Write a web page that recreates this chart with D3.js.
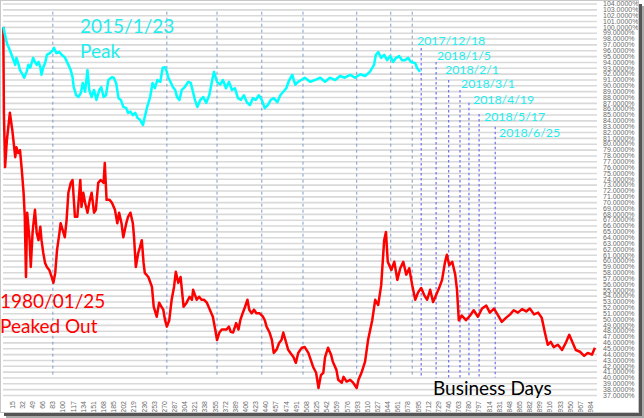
<!DOCTYPE html>
<html><head><meta charset="utf-8">
<script src="https://cdn.jsdelivr.net/npm/d3@7"></script>
<style>
html,body{margin:0;padding:0;background:#fff;}
svg{display:block;}
</style></head>
<body>
<script>
// ---------- DATA ----------
const redDays = [1,2,4,7,12,16,21,23,26,29,32,35,37,39,41,45,47,50,51,54,57,60,63,65,68,71,74,78,82,85,88,91,95,97,102,104,107,110,114,117,121,125,130,132,135,138,142,146,149,153,156,160,164,169,171,174,179,183,188,192,195,199,202,207,210,214,218,220,223,227,230,233,236,238,244,250,253,258,262,266,269,272,275,279,283,287,290,294,298,303,308,313,317,319,325,329,333,337,342,347,352,356,359,363,367,371,375,379,382,386,391,395,398,402,406,410,413,417,421,425,430,436,439,442,447,451,454,459,463,467,470,475,478,482,487,491,495,501,506,512,516,520,525,529,533,537,540,545,550,553,559,562,568,571,576,582,587,593,596,601,607,612,619,624,629,634,639,642,645,651,656,661,666,671,676,681,686,691,696,701,706,711,716,721,726,731,736,741,744,748,753,758,761,764,769,776,783,789,796,803,810,816,823,830,836,843,850,856,863,870,877,883,890,897,903,908,913,918,923,930,937,944,949,954,960,967,974,980,987,992];
const redPct = [100,85.3,76.0,80.6,85.3,82.4,77.7,79.4,78.4,78.9,75.5,71.6,67.5,57.2,68.2,63.5,58.9,64.7,65.8,68.7,64.7,63.5,65.8,63.5,61.3,59.6,58.9,58.4,57.2,56.2,57.9,61.8,64.7,66.4,64.7,64.0,66.9,71.6,73.3,73.8,67.5,67.5,73.8,69.2,71.6,69.9,68.2,70.4,71.6,68.2,68.7,73.3,73.8,73.3,76.7,70.4,70.4,69.9,68.7,66.4,68.2,66.4,64.0,66.4,67.5,68.2,66.4,64.0,58.9,61.3,62.3,63.5,59.6,57.9,57.2,55.5,52.1,50.4,52.8,52.1,51.6,49.8,48.7,49.8,53.3,55.5,58.1,56.2,57.2,52.1,52.8,53.8,53.3,55.0,53.3,53.8,53.3,53.3,52.8,51.6,50.4,48.2,46.4,47.7,48.2,48.2,48.2,48.7,47.8,47.7,49.3,48.2,49.8,51.0,52.1,53.3,51.6,51.0,51.6,51.0,51.0,50.4,49.8,48.7,47.7,46.4,44.2,44.8,45.9,46.4,47.7,45.9,44.8,44.2,43.5,42.5,44.2,45.1,45.2,44.2,43.0,41.8,40.8,38.2,40.4,40.8,43.5,45.1,43.9,42.7,41.3,39.6,39.1,40.1,39.3,39.6,39.1,38.2,39.6,40.8,42.7,46.4,49.8,53.3,52.4,55.8,63.5,64.9,59.8,58.4,59.8,56.7,58.7,59.8,57.6,58.7,55.8,53.3,54.6,55.3,54.1,53.3,55.0,52.9,54.1,55.3,56.7,59.8,61.0,59.2,59.8,57.6,55.0,49.8,50.6,49.8,50.6,51.5,50.4,51.8,52.3,51.1,51.8,50.6,49.5,50.2,50.8,51.5,51.1,51.7,51.3,51.8,50.8,51.1,50.2,47.8,45.6,46.1,45.2,45.6,44.7,46.1,47.3,46.1,44.7,44.4,43.7,44.2,43.9,45.1];

const cyanDays = [1,7,12,18,21,23,26,29,32,36,40,43,46,49,51,54,57,60,63,65,68,71,74,79,84,86,90,95,99,104,110,114,117,119,123,127,131,134,138,142,145,149,153,157,162,165,169,173,177,183,186,190,194,198,202,207,210,214,218,222,226,230,235,238,242,247,251,255,259,264,268,272,275,277,281,285,289,292,296,300,305,311,315,318,322,326,331,336,341,346,351,354,359,364,369,374,379,384,389,394,399,404,409,414,419,424,429,434,439,444,449,454,460,465,470,475,480,485,490,495,500,506,515,523,532,540,548,557,565,573,582,590,599,607,615,622,625,629,634,639,644,649,654,659,664,669,674,679,684,691,694,699];
const cyanPct = [100,97.2,96.0,94.3,93.5,94.7,93.8,92.6,92.1,91.3,92.3,93.5,93.0,94.0,94.7,94.0,93.5,94.0,93.1,91.8,93.1,93.8,95.2,95.5,96.0,96.4,95.5,95.7,95.2,94.8,93.5,92.6,91.4,89.7,88.3,88.0,88.7,90.4,88.9,92.6,89.2,88.0,89.2,87.5,89.2,89.7,88.0,88.3,90.9,91.4,91.3,90.4,87.8,87.5,86.3,86.1,85.3,85.5,84.9,85.3,84.4,84.1,83.2,84.6,86.3,88.0,90.4,89.5,90.9,90.6,93.0,93.1,92.3,91.4,90.6,89.7,89.2,88.0,87.5,89.2,89.7,90.6,90.4,89.2,87.5,86.3,87.5,88.0,87.0,88.3,90.9,92.3,90.6,90.1,90.9,89.5,90.6,89.2,89.5,87.8,87.5,88.3,87.1,86.6,87.8,87.5,88.3,87.5,86.1,86.6,87.5,87.8,87.1,88.3,88.9,89.5,90.9,91.8,90.1,90.6,90.9,91.3,90.6,90.9,91.3,90.6,91.3,90.9,91.6,91.3,91.8,91.3,91.9,91.6,92.3,93.5,95.2,95.7,94.7,95.2,94.3,95.0,94.0,94.7,95.0,94.3,94.3,94.7,94.0,93.8,93.0,92.3];

const yTicks = d3.range(37, 105, 1);                 // 37% .. 104%
const xTickLabels = d3.range(15, 985, 17);            // 15, 32, ... 984
const markerDays = [84,275,359,434,503,593,650,686];  // grey dashed verticals
const eventDates = ["2017/12/18","2018/1/5","2018/2/1","2018/3/1","2018/4/19","2018/5/17","2018/6/25"];
const eventDays = [701,726,747,766,781,798,825];
const eventTopPct = [96.4,94.0,90.9,89.2,87.0,85.1,82.9];

// ---------- CHART ----------
const W = 644, H = 418;
const svg = d3.select("body").append("svg").attr("width", W).attr("height", H);
svg.append("rect").attr("width", W).attr("height", H).attr("fill", "#fff");

const x = d3.scaleLinear().domain([0.5, 995.5]).range([3, 597]);
const y = d3.scaleLinear().domain([37, 104]).range([395, 3.5]);

// grid
const grid = svg.append("g").attr("transform", "translate(3,0)")
  .call(d3.axisLeft(y).tickValues(yTicks).tickSize(-594).tickFormat(""));
grid.select(".domain").remove();
grid.selectAll("line").attr("stroke", "#d9d9d9").attr("stroke-width", 1.6);

// right labels
const ra = svg.append("g").attr("transform", "translate(600,0)")
  .call(d3.axisRight(y).tickValues(yTicks).tickSize(0).tickPadding(3)
    .tickFormat(d => d.toFixed(4) + "%"));
ra.select(".domain").remove();
ra.selectAll("text").attr("font-family", "Liberation Sans, Arial, sans-serif")
  .attr("font-size", 7).attr("fill", "#6a6a6a");

// bottom labels
const ba = svg.append("g").attr("transform", "translate(0,398)")
  .call(d3.axisBottom(x).tickValues(xTickLabels).tickSize(0).tickFormat(d => d));
ba.select(".domain").remove();
ba.selectAll("text").attr("font-family", "Liberation Sans, Arial, sans-serif")
  .attr("font-size", 7).attr("fill", "#6a6a6a")
  .attr("transform", "rotate(-90)").attr("text-anchor", "end")
  .attr("x", -3).attr("y", 0).attr("dy", "0.35em");

// grey dashed verticals
svg.append("g").selectAll("line").data(markerDays).join("line")
  .attr("x1", d => x(d)).attr("x2", d => x(d))
  .attr("y1", y(102.6)).attr("y2", y(40))
  .attr("stroke", "#7f9ccc").attr("stroke-width", 1).attr("stroke-dasharray", "3,3");

// event dashed verticals
svg.append("g").selectAll("line").data(eventDays).join("line")
  .attr("x1", d => x(d)).attr("x2", d => x(d))
  .attr("y1", (d, i) => y(eventTopPct[i])).attr("y2", y(40))
  .attr("stroke", "#6f6ff0").attr("stroke-width", 1.2).attr("stroke-dasharray", "2.5,2.5");

// series
const line = d3.line().x(d => x(d[0])).y(d => y(d[1]));
svg.append("path").datum(redDays.map((d, i) => [d, redPct[i]]))
  .attr("d", line).attr("fill", "none").attr("stroke", "#ff0000")
  .attr("stroke-width", 2.5).attr("stroke-linejoin", "round");
svg.append("path").datum(cyanDays.map((d, i) => [d, cyanPct[i]]))
  .attr("d", line).attr("fill", "none").attr("stroke", "#00ffff")
  .attr("stroke-width", 2.5).attr("stroke-linejoin", "round");

// annotations
const F = "Lato, 'Open Sans', sans-serif";
function txt(t, px, py, size, fill) {
  svg.append("text").attr("x", px).attr("y", py).text(t)
    .attr("font-family", F).attr("font-size", size).attr("fill", fill);
}
txt("2015/1/23", 80, 33, 19, "#22eeee");
txt("Peak", 80, 58, 19, "#22eeee");
txt("1980/01/25", 0, 308, 19, "#ff0000");
txt("Peaked Out", 0, 333, 19, "#ff0000");
txt("Business Days", 433, 395, 19, "#000");
const evPos = [[417,45],[437,60],[445,74],[461,88],[473,104],[484,121],[499,137]];
eventDates.forEach((t, i) => txt(t, evPos[i][0], evPos[i][1], 12.3, "#22eeee"));

// frame with shadow
svg.append("rect").attr("x", 0.5).attr("y", 0.5).attr("width", 638).attr("height", 412)
  .attr("fill", "none").attr("stroke", "#c8c8c8");
svg.append("rect").attr("x", 639).attr("y", 4).attr("width", 3).attr("height", 411).attr("fill", "#555");
svg.append("rect").attr("x", 4).attr("y", 413).attr("width", 638).attr("height", 3).attr("fill", "#555");
svg.append("rect").attr("x", 642).attr("y", 6).attr("width", 2).attr("height", 411).attr("fill", "#aaa");
svg.append("rect").attr("x", 6).attr("y", 416).attr("width", 638).attr("height", 2).attr("fill", "#aaa");
</script>
</body></html>
